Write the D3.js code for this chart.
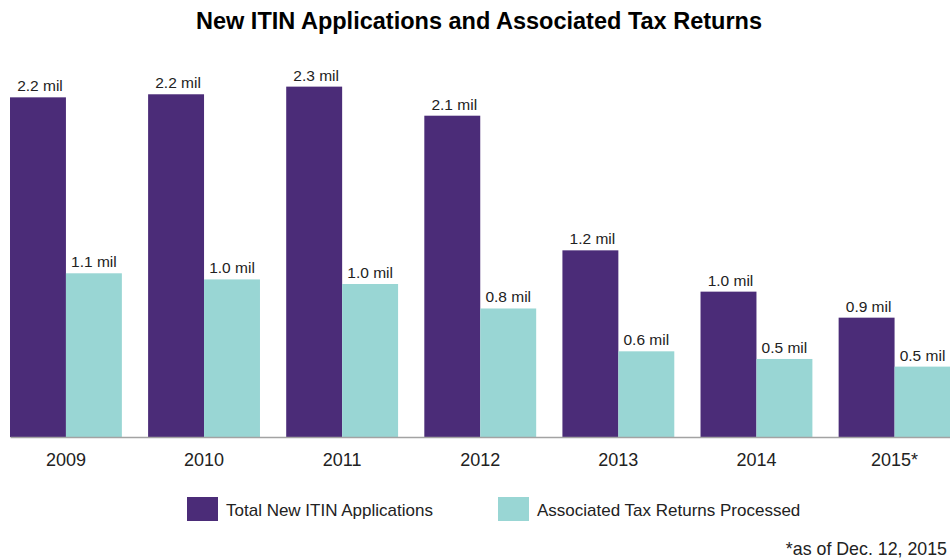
<!DOCTYPE html>
<html>
<head>
<meta charset="utf-8">
<script src="https://cdn.jsdelivr.net/npm/d3@7"></script>
<style>
  body { margin: 0; background: #fff; }
  svg text { font-family: "Liberation Sans", Arial, sans-serif; fill: #222; }
</style>
</head>
<body>
<svg id="chart" width="950" height="559"></svg>
<script>
// data, in millions
var years = ['2009', '2010', '2011', '2012', '2013', '2014', '2015*']
var applications = [2.22, 2.24, 2.29, 2.10, 1.22, 0.95, 0.78]
var returnsProcessed = [1.07, 1.03, 1.00, 0.84, 0.56, 0.51, 0.46]
var applicationLabels = ['2.2 mil', '2.2 mil', '2.3 mil', '2.1 mil', '1.2 mil', '1.0 mil', '0.9 mil']
var returnLabels = ['1.1 mil', '1.0 mil', '1.0 mil', '0.8 mil', '0.6 mil', '0.5 mil', '0.5 mil']
var seriesNames = ['Total New ITIN Applications', 'Associated Tax Returns Processed']
var colors = ['#4b2c78', '#99d6d4']

var svg = d3.select('#chart')
var baseline = 437

var x0 = d3.scaleBand().domain(years).range([10, 950.5]).paddingInner(0.19).paddingOuter(0)
var x1 = d3.scaleBand().domain([0, 1]).range([0, x0.bandwidth()])
var y = d3.scaleLinear().domain([0, 2.5]).range([baseline, baseline - 2.5 * 153])

var rows = years.map((yr, i) => ({
    year: yr,
    bars: [
        {k: 0, v: applications[i], label: applicationLabels[i]},
        {k: 1, v: returnsProcessed[i], label: returnLabels[i]}
    ]
}))

// title
svg.append('text')
    .attr('x', 479)
    .attr('y', 29)
    .attr('text-anchor', 'middle')
    .attr('textLength', 566)
    .attr('lengthAdjust', 'spacingAndGlyphs')
    .style('font-size', '23px')
    .style('font-weight', 'bold')
    .style('fill', '#000')
    .text('New ITIN Applications and Associated Tax Returns')

var groups = svg.append('g')
    .selectAll('g')
    .data(rows)
    .join('g')
    .attr('transform', d => 'translate(' + x0(d.year) + ',0)')

groups.selectAll('rect')
    .data(d => d.bars)
    .join('rect')
    .attr('x', d => x1(d.k))
    .attr('y', d => y(d.v))
    .attr('width', x1.bandwidth())
    .attr('height', d => baseline - y(d.v))
    .attr('fill', d => colors[d.k])

groups.selectAll('text.val')
    .data(d => d.bars)
    .join('text')
    .attr('class', 'val')
    .attr('x', d => x1(d.k) + x1.bandwidth() / 2 + (d.k == 0 ? 2 : 0))
    .attr('y', d => y(d.v) - 6)
    .attr('text-anchor', 'middle')
    .style('font-size', '15.5px')
    .text(d => d.label)

// x axis
var xAxis = svg.append('g')
    .attr('transform', 'translate(0,' + baseline + ')')
    .call(d3.axisBottom(x0).tickSize(0).tickSizeOuter(0).tickPadding(16.5))
xAxis.select('.domain').attr('stroke', '#a3a3a3').attr('stroke-width', 1.5)
xAxis.selectAll('text')
    .style('font-size', '18px')
    .style('font-family', '"Liberation Sans", Arial, sans-serif')
    .attr('fill', '#222')

// legend
var legendX = [187, 498]
var legend = svg.append('g')
    .selectAll('g')
    .data(seriesNames)
    .join('g')
    .attr('transform', (d, i) => 'translate(' + legendX[i] + ',497)')
legend.append('rect')
    .attr('width', 31)
    .attr('height', 24)
    .attr('fill', (d, i) => colors[i])
legend.append('text')
    .attr('x', 39)
    .attr('y', 19)
    .style('font-size', '17px')
    .text(d => d)

// footnote
svg.append('text')
    .attr('x', 947)
    .attr('y', 555)
    .attr('text-anchor', 'end')
    .style('font-size', '17.8px')
    .text('*as of Dec. 12, 2015')
</script>
</body>
</html>
